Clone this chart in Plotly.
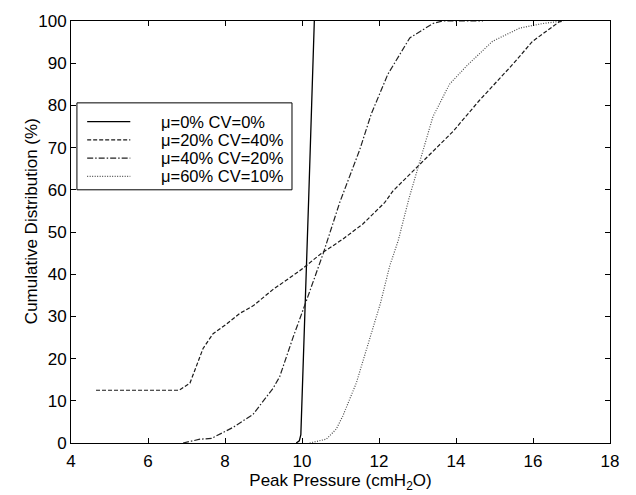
import plotly.graph_objects as go

# Cumulative distributions of peak pressure for four scenarios
labels = ["μ=0% CV=0%", "μ=20% CV=40%", "μ=40% CV=20%", "μ=60% CV=10%"]

mu0_x = [9.85, 9.93, 9.97, 10.08, 10.17, 10.25, 10.32]
mu0_y = [0, 0.5, 2, 30, 57, 80, 100]

mu20_x = [4.65, 6.81, 7.09, 7.43, 7.69, 8.04, 8.38, 8.73, 9.25, 9.94, 10.5, 11.06,
          11.58, 12.15, 12.36, 13.05, 13.92, 14.6, 15.47, 15.99, 16.68, 16.8]
mu20_y = [12.5, 12.5, 14.2, 22.4, 25.9, 28.2, 30.7, 32.5, 36.4, 40.8, 44.9, 48.3,
          51.9, 57, 59.7, 66, 73.8, 81.1, 89.7, 95.2, 99.8, 100]

mu40_x = [6.91, 7.35, 7.65, 8.21, 8.73, 9.25, 9.42, 9.77, 10.11, 10.55, 10.98, 11.24,
          11.5, 11.8, 12.23, 12.8, 13.4, 13.65, 14.7]
mu40_y = [0, 0.9, 1.1, 3.7, 6.8, 13, 15.7, 25.1, 33.6, 44.9, 57, 63.2,
          69.5, 78, 87.4, 96, 99.4, 100, 100]

mu60_x = [10.2, 10.63, 10.89, 11.06, 11.41, 11.78, 12.04, 12.28, 12.5, 12.78, 13.05,
          13.4, 13.83, 14.27, 14.95, 15.65, 16.25, 16.77]
mu60_y = [0, 0.9, 3.3, 6.4, 14.2, 25.5, 33.2, 42, 48, 58, 66.4,
          77.3, 85, 89.3, 95.2, 98.3, 99.4, 100]

x_ticks = [4, 6, 8, 10, 12, 14, 16, 18]
y_ticks = [0, 10, 20, 30, 40, 50, 60, 70, 80, 90, 100]

styles = [
    dict(color="#000000", width=1.3, dash="solid"),
    dict(color="#1a1a1a", width=1.2, dash="4px,2px"),
    dict(color="#222222", width=1.2, dash="6px,2px,1.5px,2px"),
    dict(color="#4d4d4d", width=1.2, dash="1px,1.5px"),
]

series = [(mu0_x, mu0_y), (mu20_x, mu20_y), (mu40_x, mu40_y), (mu60_x, mu60_y)]

FONT = "Liberation Sans, Arial, Helvetica, sans-serif"
FS = 17
LEGEND_FS = 16.5

fig = go.Figure()
for (xs, ys), lab, st in zip(series, labels, styles):
    fig.add_trace(go.Scatter(x=xs, y=ys, mode="lines", name=lab, line=st,
                             showlegend=False))

# Boxed legend inside the axes, upper left
shapes = [dict(type="rect", xref="paper", yref="paper", x0=0.011, x1=0.41,
               y0=0.600, y1=0.806, line=dict(color="black", width=1),
               fillcolor="white", layer="above")]
annotations = []
row_y = [0.7617, 0.7185, 0.6752, 0.6320]
for lab, st, yy in zip(labels, styles, row_y):
    shapes.append(dict(type="line", xref="paper", yref="paper", x0=0.030, x1=0.110,
                       y0=yy, y1=yy, line=st, layer="above"))
    annotations.append(dict(xref="paper", yref="paper", x=0.163, y=yy, text=lab,
                            showarrow=False, xanchor="left", yanchor="middle",
                            font=dict(family=FONT, size=LEGEND_FS, color="black")))

# Y axis title, placed slightly above the vertical centre of the axes
annotations.append(dict(xref="paper", yref="paper", x=-0.074, y=0.526,
                        text="Cumulative Distribution (%)", textangle=-90,
                        showarrow=False, xanchor="center", yanchor="middle",
                        font=dict(family=FONT, size=FS, color="black")))

axis_common = dict(showline=True, linecolor="black", linewidth=1, mirror="ticks",
                   ticks="inside", ticklen=5, tickcolor="black", showgrid=False,
                   zeroline=False, tickfont=dict(family=FONT, size=FS, color="black"))

fig.update_layout(
    width=636, height=495,
    margin=dict(l=71, r=26, t=16, b=51),
    paper_bgcolor="white", plot_bgcolor="white",
    xaxis=dict(range=[4, 18], tickvals=x_ticks, ticklabelstandoff=3,
               title=dict(text="Peak Pressure (cmH<sub>2</sub>O)", standoff=0,
                          font=dict(family=FONT, size=FS, color="black")),
               **axis_common),
    yaxis=dict(range=[0, 100], tickvals=y_ticks, ticklabelstandoff=0,
               **axis_common),
    shapes=shapes,
    annotations=annotations,
)

fig.write_html("out.html")
